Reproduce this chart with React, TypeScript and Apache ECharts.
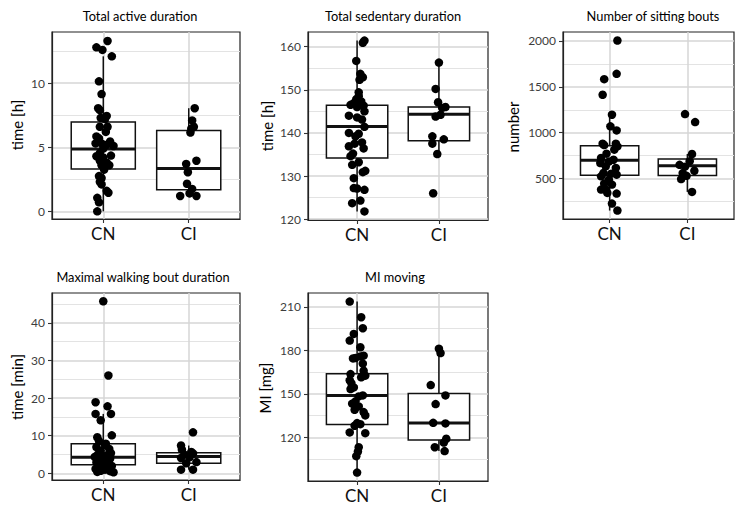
import React, { useEffect, useRef } from 'react';
import * as echarts from 'echarts';

const categories = ['CN', 'CI'];
const fontFamily = 'Lato, "Noto Sans", sans-serif';

// points are [jitter offset from the category, value]
const activeCN = [
  [0.05, 13.3], [-0.08, 12.8], [-0.01, 12.6], [0.1, 12.1], [-0.05, 10.15], [-0.02, 9.15],
  [-0.06, 8.05], [-0.04, 7.9], [0.04, 7.45], [-0.03, 7.3], [0.02, 7.2], [0.05, 6.6],
  [-0.04, 6.6], [0.03, 6.2], [-0.08, 5.85], [-0.05, 5.7], [0.08, 5.45], [-0.09, 5.3],
  [-0.02, 5.3], [0.04, 5.2], [0.12, 5.1], [0, 4.9], [-0.04, 4.55], [0.09, 4.35],
  [-0.08, 4.3], [0, 4.2], [-0.04, 3.95], [0.04, 3.8], [-0.02, 3.6], [0.07, 3.6],
  [0.01, 3.25], [-0.05, 2.75], [-0.02, 2.6], [-0.04, 2.3], [-0.02, 2.1], [0.04, 1.6],
  [0.06, 1.45], [-0.07, 1.05], [-0.05, 0.7], [-0.07, 0.0],
];
const activeCI = [
  [0.07, 8.05], [0.04, 7.1], [0.06, 6.6], [0.03, 6.45], [0.02, 6.15], [0.09, 3.95],
  [-0.03, 3.7], [-0.01, 3.05], [-0.02, 2.15], [0.04, 1.75], [0.01, 1.4], [-0.1, 1.2],
  [0.09, 1.2],
];
// [lower whisker, Q1, median, Q3, upper whisker] for CN and CI
const activeBox = [[0.0, 3.3, 4.87, 6.97, 12.1], [1.2, 1.68, 3.34, 6.3, 8.05]];
const activeMajor = [0, 5, 10];
const activeMinor = [2.5, 7.5, 12.5];

const sedentaryCN = [
  [0.09, 161.4], [0.07, 160.9], [-0.01, 156.7], [0.04, 153.7], [0.07, 152.9], [0.03, 152.3],
  [0.02, 149.4], [0.02, 148.5], [-0.01, 147.8], [0.05, 147.3], [-0.04, 146.9], [-0.08, 146.5],
  [0.08, 146.3], [0, 146.0], [0.09, 145.0], [-0.1, 144.0], [0, 143.6], [0.06, 143.1],
  [0.09, 141.4], [-0.1, 140.0], [0.02, 139.8], [-0.02, 139.2], [0.06, 137.8], [-0.03, 137.5],
  [-0.1, 136.9], [0.08, 136.4], [-0.05, 135.2], [-0.08, 134.6], [0.02, 133.2], [-0.06, 132.6],
  [0.1, 131.2], [0.07, 130.9], [-0.04, 129.5], [-0.04, 127.2], [0, 127.1], [0.09, 126.8],
  [0.04, 124.3], [-0.06, 123.7], [0.09, 121.8],
];
const sedentaryCI = [
  [0, 156.3], [-0.04, 150.2], [-0.01, 147.1], [0.08, 146.0], [0.04, 145.8], [-0.04, 143.8],
  [0.02, 144.2], [-0.08, 139.2], [0.06, 138.5], [-0.08, 137.5], [-0.02, 135.1], [-0.07, 126.0],
];
const sedentaryBox = [[121.8, 134.2, 141.5, 146.4, 161.4], [135.1, 138.2, 144.3, 146.0, 156.3]];
const sedentaryMajor = [120, 130, 140, 150, 160];
const sedentaryMinor = [125, 135, 145, 155];

const boutsCN = [
  [0.1, 2004], [0.09, 1641], [-0.07, 1583], [-0.09, 1413], [0.03, 1196], [0.01, 1069],
  [0.09, 1025], [-0.09, 880], [0.08, 880], [-0.07, 865], [0.1, 851], [0.06, 815],
  [-0.04, 772], [-0.11, 725], [0.05, 706], [-0.01, 685], [-0.12, 670], [-0.05, 634],
  [0.08, 616], [-0.08, 561], [0.02, 554], [0.09, 543], [-0.11, 525], [-0.01, 489],
  [-0.07, 446], [0.03, 435], [-0.05, 380], [-0.11, 380], [-0.03, 344], [0.09, 337],
  [0.03, 228], [0.1, 152],
];
const boutsCI = [
  [-0.03, 1203], [0.1, 1116], [0.06, 768], [0.03, 690], [-0.1, 650], [-0.03, 630],
  [0.09, 585], [-0.06, 560], [-0.01, 530], [-0.08, 495], [0.06, 355],
];
const boutsBox = [[152, 536, 699, 859, 1196], [355, 533, 641, 714, 768]];
const boutsMajor = [500, 1000, 1500, 2000];
const boutsMinor = [250, 750, 1250, 1750];

const walkCN = [
  [0, 45.7], [0.06, 26.0], [-0.09, 18.9], [0.05, 17.8], [-0.09, 15.8], [0.09, 15.8],
  [-0.03, 14.1], [0.1, 10.1], [-0.07, 9.6], [0.03, 7.9], [-0.05, 8.6], [0.02, 7.5],
  [-0.08, 7.0], [0.07, 6.5], [-0.03, 6.0], [0.09, 5.4], [-0.06, 5.1], [0.04, 4.8],
  [-0.1, 4.4], [0.01, 4.2], [0.08, 3.9], [-0.04, 3.5], [0.05, 3.2], [-0.08, 2.9],
  [0.03, 2.6], [-0.02, 2.3], [0.1, 2.0], [-0.06, 1.8], [0.06, 1.5], [-0.09, 1.2],
  [0.02, 1.0], [-0.03, 0.7], [0.08, 0.6], [-0.07, 0.4], [0.12, 0.3],
];
const walkCI = [
  [0.05, 10.9], [-0.09, 7.4], [-0.08, 6.3], [0.03, 5.7], [0.05, 5.3], [-0.05, 5.0],
  [0.01, 4.3], [-0.09, 4.1], [0.09, 3.0], [-0.03, 2.7], [-0.09, 1.0], [0.05, 1.0],
];
const walkBox = [[0.3, 2.3, 4.3, 7.9, 15.8], [1.0, 2.7, 4.5, 5.5, 7.4]];
const walkMajor = [0, 10, 20, 30, 40];
const walkMinor = [5, 15, 25, 35, 45];

const miCN = [
  [-0.09, 213.7], [0.05, 202.9], [0.07, 195.3], [-0.04, 191.4], [-0.09, 186.8], [0.04, 182.2],
  [0.08, 176.4], [0.04, 175.9], [-0.02, 174.8], [-0.05, 174.5], [0.07, 170.9], [-0.08, 163.7],
  [0.08, 166.0], [0.1, 162.6], [0.05, 161.5], [-0.09, 159.4], [-0.07, 157.5], [-0.04, 154.5],
  [-0.08, 153.4], [0.07, 149.0], [0.02, 148.3], [-0.02, 144.9], [-0.06, 143.3], [0.02, 141.4],
  [-0.03, 139.1], [0.08, 137.5], [0.1, 135.2], [0, 129.9], [0.04, 129.2], [-0.03, 128.1],
  [-0.09, 123.5], [0.1, 123.0], [0.02, 113.3], [0.01, 110.3], [-0.01, 107.1], [0, 95.8],
];
const miCI = [
  [0, 181.2], [0.02, 178.2], [-0.1, 156.1], [0.08, 149.0], [-0.04, 143.0], [-0.07, 130.1],
  [0.08, 129.7], [0.09, 119.1], [0.06, 116.5], [-0.05, 113.3], [0.07, 110.6],
];
const miBox = [[95.8, 129, 149, 164, 213.7], [110.6, 118.2, 129.9, 150.4, 181.2]];
const miMajor = [120, 150, 180, 210];
const miMinor = [105, 135, 165, 195];

const panels = [
  {
    title: 'Total active duration', yName: 'time [h]', cn: activeCN, ci: activeCI, box: activeBox,
    major: activeMajor, minor: activeMinor, min: -0.6, max: 14.0,
    rect: [52, 32, 188, 187], titleAt: [140, 16], nameAt: [17, 125],
  },
  {
    title: 'Total sedentary duration', yName: 'time [h]', cn: sedentaryCN, ci: sedentaryCI, box: sedentaryBox,
    major: sedentaryMajor, minor: sedentaryMinor, min: 119.8, max: 163.4,
    rect: [308, 32, 180, 188], titleAt: [393, 16], nameAt: [267, 126],
  },
  {
    title: 'Number of sitting bouts', yName: 'number', cn: boutsCN, ci: boutsCI, box: boutsBox,
    major: boutsMajor, minor: boutsMinor, min: 60, max: 2097,
    rect: [563, 32, 171, 187], titleAt: [653, 16], nameAt: [513, 127],
  },
  {
    title: 'Maximal walking bout duration', yName: 'time [min]', cn: walkCN, ci: walkCI, box: walkBox,
    major: walkMajor, minor: walkMinor, min: -1.75, max: 47.9,
    rect: [52, 293, 188, 187], titleAt: [143, 277], nameAt: [17, 387],
  },
  {
    title: 'MI moving', yName: 'MI [mg]', cn: miCN, ci: miCI, box: miBox,
    major: miMajor, minor: miMinor, min: 90, max: 219.6,
    rect: [308, 293, 180, 188], titleAt: [395, 277], nameAt: [265, 388],
  },
];

const BOX_HALF = 0.375;

const renderBox = (params: any, api: any) => {
  const x = api.value(0);
  const cx = api.coord([x, 0])[0];
  const left = api.coord([x - BOX_HALF, 0])[0];
  const right = api.coord([x + BOX_HALF, 0])[0];
  const yLow = api.coord([x, api.value(1)])[1];
  const yQ1 = api.coord([x, api.value(2)])[1];
  const yMed = api.coord([x, api.value(3)])[1];
  const yQ3 = api.coord([x, api.value(4)])[1];
  const yHigh = api.coord([x, api.value(5)])[1];
  const stroke = '#111';
  return {
    type: 'group',
    children: [
      { type: 'line', shape: { x1: cx, y1: yHigh, x2: cx, y2: yQ3 }, style: { stroke, lineWidth: 1.5 } },
      { type: 'line', shape: { x1: cx, y1: yQ1, x2: cx, y2: yLow }, style: { stroke, lineWidth: 1.5 } },
      {
        type: 'rect',
        shape: { x: left, y: yQ3, width: right - left, height: yQ1 - yQ3 },
        style: { fill: '#fff', stroke, lineWidth: 1.5 },
      },
      { type: 'line', shape: { x1: left, y1: yMed, x2: right, y2: yMed }, style: { stroke, lineWidth: 3 } },
    ],
  };
};

const makeOption = () => {
  const grid = panels.map(p => ({
    left: p.rect[0],
    top: p.rect[1],
    width: p.rect[2],
    height: p.rect[3],
    show: true,
    borderColor: '#222',
    borderWidth: 1.2,
    backgroundColor: '#fff',
  }));

  const xAxis = panels.map((p, i) => ({
    type: 'value',
    gridIndex: i,
    min: 0.4,
    max: 2.6,
    axisLine: { show: true, onZero: false, lineStyle: { color: '#222', width: 1.2 } },
    axisTick: { show: true, customValues: [1, 2], length: 4, lineStyle: { color: '#333', width: 1.1 } },
    axisLabel: {
      customValues: [1, 2],
      formatter: (v: number) => categories[Math.round(v) - 1],
      color: '#111',
      fontSize: 17,
      fontFamily,
      margin: 6,
    },
    splitLine: { show: true, lineStyle: { color: '#d6d6d6', width: 1.5 } },
  }));

  const yAxis: any[] = [];
  panels.forEach((p, i) => {
    yAxis.push({
      type: 'value',
      gridIndex: i,
      position: 'left',
      min: p.min,
      max: p.max,
      axisLine: { show: true, onZero: false, lineStyle: { color: '#222', width: 1.2 } },
      axisTick: { show: true, customValues: p.major, length: 4, lineStyle: { color: '#333', width: 1.1 } },
      axisLabel: {
        customValues: p.major,
        formatter: (v: number) => String(v),
        color: '#3d3d3d',
        fontSize: 12,
        fontFamily,
        margin: 7,
      },
      splitLine: { show: true, lineStyle: { color: '#d6d6d6', width: 1.5 } },
    });
    // minor grid lines halfway between the labelled breaks
    yAxis.push({
      type: 'value',
      gridIndex: i,
      position: 'right',
      min: p.min,
      max: p.max,
      axisLine: { show: false },
      axisTick: { show: false, customValues: p.minor },
      axisLabel: { show: false },
      splitLine: { show: true, lineStyle: { color: '#e3e3e3', width: 1.1 } },
    });
  });

  const series: any[] = [];
  panels.forEach((p, i) => {
    series.push({
      type: 'custom',
      xAxisIndex: i,
      yAxisIndex: 2 * i,
      z: 2,
      renderItem: renderBox,
      encode: { x: 0, y: [1, 2, 3, 4, 5] },
      data: p.box.map((b, k) => [k + 1, ...b]),
    });
    series.push({
      type: 'scatter',
      xAxisIndex: i,
      yAxisIndex: 2 * i,
      z: 3,
      symbolSize: 8.5,
      itemStyle: { color: '#000', opacity: 1 },
      data: [
        ...p.cn.map(([j, v]) => [1 + j, v]),
        ...p.ci.map(([j, v]) => [2 + j, v]),
      ],
    });
  });

  const graphic: any[] = [];
  panels.forEach(p => {
    graphic.push({
      type: 'text',
      x: p.titleAt[0],
      y: p.titleAt[1],
      style: {
        text: p.title,
        textAlign: 'center',
        textVerticalAlign: 'middle',
        font: `12.8px ${fontFamily}`,
        fill: '#000',
      },
    });
    graphic.push({
      type: 'text',
      x: p.nameAt[0],
      y: p.nameAt[1],
      rotation: Math.PI / 2,
      style: {
        text: p.yName,
        textAlign: 'center',
        textVerticalAlign: 'middle',
        font: `15px ${fontFamily}`,
        fill: '#000',
      },
    });
  });

  return {
    animation: false,
    backgroundColor: '#fff',
    textStyle: { fontFamily },
    grid,
    xAxis,
    yAxis,
    series,
    graphic,
  };
};

const App: React.FC = () => {
  const chartRef = useRef<HTMLDivElement>(null);

  useEffect(() => {
    const chart = echarts.init(chartRef.current!, null, { renderer: 'svg' });
    chart.setOption(makeOption() as any);
    return () => {
      chart.dispose();
    };
  }, []);

  return (
    <div
      ref={chartRef}
      style={{ position: 'absolute', left: 0, top: 0, width: 744, height: 507, background: '#fff' }}
    />
  );
};

export default App;
